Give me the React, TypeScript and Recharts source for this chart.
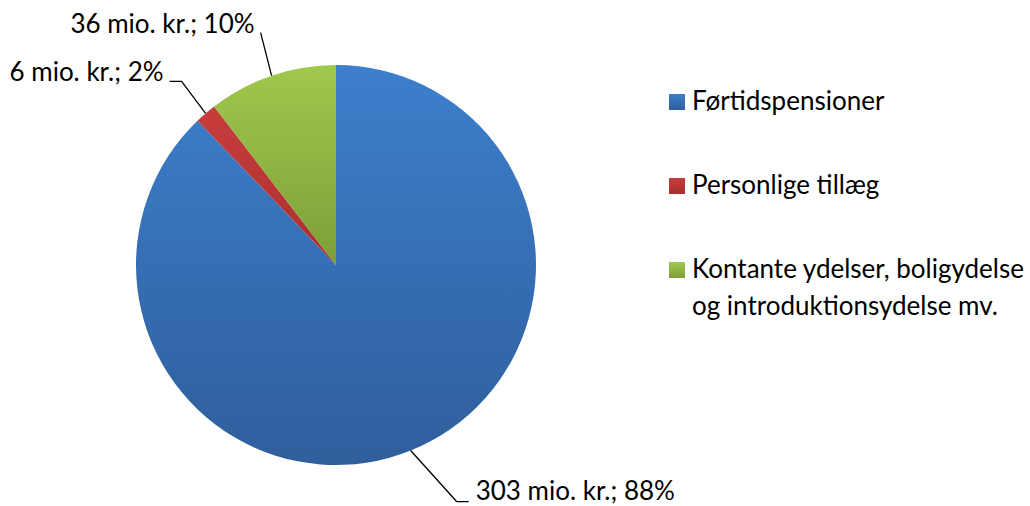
import { Cell, Legend, Pie, PieChart } from "recharts";

const categories = [
  "Førtidspensioner",
  "Personlige tillæg",
  "Kontante ydelser, boligydelse og introduktionsydelse mv.",
];
const amounts = [303, 6, 36]; // mio. kr.
const gradientStops = [
  ["#3d7fcc", "#2f5e9c"],
  ["#c83d3c", "#a8302f"],
  ["#a0c84d", "#7c9f38"],
];

const data = categories.map((name, i) => ({ name, value: amounts[i] }));

// leader line elbow offsets from the slice edge, and the horizontal tail
const labelLayout = [
  { dx: 46, dy: 51, tail: 12 },
  { dx: -24, dy: -32, tail: -12 },
  { dx: -11, dy: -43, tail: 0 },
];

const FONT = "Lato, 'Noto Sans', sans-serif";
const RADIAN = Math.PI / 180;

const renderLabel = (props: any) => {
  const { cx, cy, midAngle, outerRadius, index, value, percent } = props;
  const sx = cx + outerRadius * Math.cos(-midAngle * RADIAN);
  const sy = cy + outerRadius * Math.sin(-midAngle * RADIAN);
  const l = labelLayout[index];
  const ex = sx + l.dx;
  const ey = sy + l.dy;
  const tx = ex + l.tail;
  const right = l.dx > 0;
  return (
    <g key={`lbl-${index}`}>
      <polyline
        points={`${sx},${sy} ${ex},${ey} ${tx},${ey}`}
        fill="none"
        stroke="#000"
        strokeWidth={1.3}
      />
      <text
        x={right ? tx + 7 : tx - 6}
        y={right ? ey - 2 : ey}
        textAnchor={right ? "start" : "end"}
        fontFamily={FONT}
        fontSize={26}
        fill="#000"
      >
        {`${value} mio. kr.; ${Math.round(percent * 100)}%`}
      </text>
    </g>
  );
};

const renderLegend = () => (
  <div style={{ fontFamily: FONT, fontSize: 26, lineHeight: "37px", color: "#000" }}>
    {categories.map((name, i) => (
      <div
        key={name}
        style={{ position: "relative", paddingLeft: 23, width: 345, marginBottom: 47 }}
      >
        <span
          style={{
            position: "absolute",
            left: 0,
            top: 12,
            width: 16,
            height: 16,
            background: `linear-gradient(${gradientStops[i][0]}, ${gradientStops[i][1]})`,
          }}
        />
        {name}
      </div>
    ))}
  </div>
);

export default function App() {
  return (
    <div style={{ position: "absolute", left: 0, top: 0, width: 1030, height: 506, background: "#fff" }}>
      <PieChart width={1030} height={506} margin={{ top: 0, right: 0, bottom: 0, left: 0 }}>
        <defs>
          {gradientStops.map((g, i) => (
            <linearGradient key={i} id={`grad${i}`} x1="0" y1="0" x2="0" y2="1">
              <stop offset="0%" stopColor={g[0]} />
              <stop offset="100%" stopColor={g[1]} />
            </linearGradient>
          ))}
        </defs>
        <Pie
          data={data}
          dataKey="value"
          nameKey="name"
          cx={336}
          cy={265}
          outerRadius={200}
          startAngle={90}
          endAngle={-270}
          stroke="none"
          label={renderLabel}
          labelLine={false}
          isAnimationActive={false}
        >
          {data.map((d, i) => (
            <Cell key={d.name} fill={`url(#grad${i})`} />
          ))}
        </Pie>
        <Legend
          layout="vertical"
          align="right"
          verticalAlign="top"
          content={renderLegend}
          wrapperStyle={{ left: 669, top: 82, width: 361 }}
        />
      </PieChart>
    </div>
  );
}
